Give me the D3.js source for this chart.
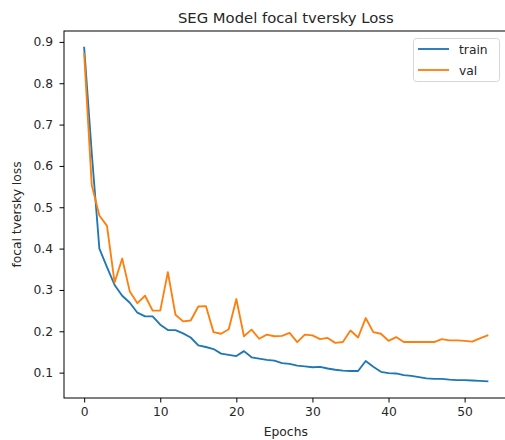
<!DOCTYPE html>
<html>
<head>
<meta charset="utf-8">
<script src="https://cdn.jsdelivr.net/npm/d3@7"></script>
<style>
  html, body { margin: 0; padding: 0; background: #fff; }
  svg { display: block; font-family: "DejaVu Sans", sans-serif; }
</style>
</head>
<body>
<svg id="chart" width="505" height="440"></svg>
<script>
const epochs = d3.range(0, 54);
const trainLoss = [0.886, 0.63, 0.400, 0.355, 0.312, 0.286, 0.269, 0.245, 0.236, 0.236,
  0.216, 0.203, 0.203, 0.195, 0.185, 0.166, 0.162, 0.157, 0.146, 0.143,
  0.140, 0.152, 0.137, 0.134, 0.131, 0.129, 0.123, 0.121, 0.117, 0.115,
  0.113, 0.114, 0.110, 0.107, 0.105, 0.104, 0.104, 0.128, 0.114, 0.102,
  0.099, 0.098, 0.094, 0.092, 0.089, 0.086, 0.085, 0.085, 0.083, 0.082,
  0.082, 0.081, 0.080, 0.079];
const valLoss = [0.871, 0.553, 0.48, 0.455, 0.318, 0.376, 0.296, 0.268, 0.286, 0.250,
  0.250, 0.343, 0.240, 0.224, 0.226, 0.260, 0.261, 0.198, 0.194, 0.205,
  0.278, 0.188, 0.204, 0.182, 0.192, 0.188, 0.189, 0.196, 0.174, 0.192,
  0.190, 0.181, 0.184, 0.172, 0.174, 0.202, 0.185, 0.232, 0.198, 0.194,
  0.177, 0.186, 0.174, 0.174, 0.174, 0.174, 0.174, 0.181, 0.178, 0.178,
  0.177, 0.175, 0.183, 0.19];
const xTicks = [0, 10, 20, 30, 40, 50];
const yTicks = [0.1, 0.2, 0.3, 0.4, 0.5, 0.6, 0.7, 0.8, 0.9];
const seriesNames = ["train", "val"];
const seriesColors = ["#1f77b4", "#ff7f0e"];

const svg = d3.select("#chart");
const L = 64, R = 507.6, T = 31, B = 398;

const xmin = d3.min(epochs), xmax = d3.max(epochs);
const xm = (xmax - xmin) * 0.05;
const allY = trainLoss.concat(valLoss);
const ymin = d3.min(allY), ymax = d3.max(allY);
const ym = (ymax - ymin) * 0.05;

const x = d3.scaleLinear().domain([xmin - xm, xmax + xm]).range([L, R]);
const y = d3.scaleLinear().domain([ymin - ym, ymax + ym]).range([B, T]);

// lines
const series = [trainLoss, valLoss];
const line = d3.line().x((d, i) => x(epochs[i])).y(d => y(d));
svg.append("clipPath").attr("id", "clip").append("rect")
  .attr("x", L).attr("y", T).attr("width", R - L).attr("height", B - T);
series.forEach((s, k) => {
  svg.append("path").datum(s)
    .attr("d", line)
    .attr("fill", "none")
    .attr("stroke", seriesColors[k])
    .attr("stroke-width", 1.85)
    .attr("stroke-linejoin", "round")
    .attr("stroke-linecap", "square")
    .attr("clip-path", "url(#clip)");
});

// axes
const xAxis = d3.axisBottom(x).tickValues(xTicks).tickFormat(d3.format("d"))
  .tickSize(4.5).tickPadding(4.5);
const gx = svg.append("g").attr("transform", `translate(0,${B})`).call(xAxis);
const yAxis = d3.axisLeft(y).tickValues(yTicks).tickFormat(d3.format(".1f"))
  .tickSize(4.5).tickPadding(6.5);
const gy = svg.append("g").attr("transform", `translate(${L},0)`).call(yAxis);
[gx, gy].forEach(g => {
  g.select(".domain").remove();
  g.selectAll("line").attr("stroke", "#000").attr("stroke-width", 1);
  g.selectAll("text").attr("fill", "#262626").style("font-size", "12.3px")
    .style("font-family", "'DejaVu Sans', sans-serif");
});

// spines
svg.append("rect").attr("x", L).attr("y", T).attr("width", R - L).attr("height", B - T)
  .attr("fill", "none").attr("stroke", "#000").attr("stroke-width", 1);

// title and labels
svg.append("text").attr("x", (L + R) / 2).attr("y", 23).attr("text-anchor", "middle")
  .style("font-size", "14.8px").attr("fill", "#262626").text("SEG Model focal tversky Loss");
svg.append("text").attr("x", (L + R) / 2).attr("y", 436).attr("text-anchor", "middle")
  .style("font-size", "12.3px").attr("fill", "#262626").text("Epochs");
svg.append("text").attr("transform", `translate(21,${(T + B) / 2}) rotate(-90)`)
  .attr("text-anchor", "middle").style("font-size", "12.3px").attr("fill", "#262626")
  .text("focal tversky loss");

// legend
const lg = svg.append("g");
lg.append("rect").attr("x", 413.5).attr("y", 38.5).attr("width", 86).attr("height", 43)
  .attr("rx", 3).attr("fill", "#fff").attr("fill-opacity", 0.8)
  .attr("stroke", "#d6d6d6").attr("stroke-width", 1);
seriesNames.forEach((n, k) => {
  const yy = 49 + k * 21;
  lg.append("line").attr("x1", 418).attr("x2", 449).attr("y1", yy).attr("y2", yy)
    .attr("stroke", seriesColors[k]).attr("stroke-width", 1.85);
  lg.append("text").attr("x", 459).attr("y", yy + 4.5).style("font-size", "12.3px")
    .attr("fill", "#262626").text(n);
});
</script>
</body>
</html>
